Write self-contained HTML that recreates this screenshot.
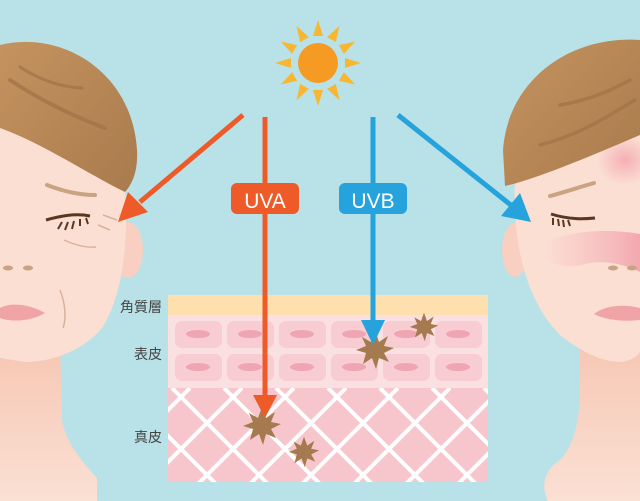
<!DOCTYPE html>
<html><head><meta charset="utf-8"><style>
html,body{margin:0;padding:0;background:#b9e1e8;}
svg{display:block}
text{font-family:"Liberation Sans","Noto Sans CJK JP",sans-serif;}
</style></head><body>
<svg width="640" height="501" viewBox="0 0 640 501" xmlns="http://www.w3.org/2000/svg">
<defs>
<linearGradient id="hair" x1="0" y1="0" x2="1" y2="1"><stop offset="0" stop-color="#c4935f"/><stop offset="1" stop-color="#a97a4c"/></linearGradient>
<linearGradient id="neck" x1="0" y1="0" x2="0" y2="1"><stop offset="0" stop-color="#f6c6b2"/><stop offset="1" stop-color="#fbe0d4"/></linearGradient>
<radialGradient id="blush" cx="0.5" cy="0.5" r="0.5"><stop offset="0" stop-color="#f29aaa" stop-opacity="0.7"/><stop offset="1" stop-color="#f29aaa" stop-opacity="0"/></radialGradient>
<linearGradient id="band" x1="0" y1="0" x2="1" y2="0"><stop offset="0" stop-color="#f3a9b3" stop-opacity="0"/><stop offset="0.5" stop-color="#f3a9b3" stop-opacity="0.45"/><stop offset="1" stop-color="#f08fa0" stop-opacity="0.7"/></linearGradient>
<clipPath id="derm"><rect x="168" y="388" width="320" height="94"/></clipPath>
<g id="star"><polygon points="0,-19 4,-8 13,-14 9,-4 19,-2 9,3 14,12 4,8 1,19 -3,8 -12,14 -9,3 -19,0 -9,-4 -13,-13 -4,-8" fill="#a57a4e"/></g>
</defs>
<rect width="640" height="501" fill="#b9e1e8"/>

<!-- Left face -->
<path d="M0,340 L60,340 L62,420 C65,440 80,460 97,478 L97,501 L0,501 Z" fill="url(#neck)"/>
<ellipse cx="128" cy="250" rx="15" ry="28" fill="#f8cfc0"/>
<path d="M0,120 L125,188 C128,230 126,290 102,328 C82,352 50,362 25,362 L0,358 Z" fill="#fbdfd3"/>
<path d="M0,45 C60,30 132,70 137,150 C138,170 133,183 125,192 C90,175 40,142 0,128 Z" fill="url(#hair)"/>
<path d="M10,80 C40,100 70,115 105,128" stroke="#9f7246" stroke-width="4" fill="none" stroke-linecap="round" opacity="0.7"/>
<path d="M20,67 C40,80 60,87 82,88" stroke="#9f7246" stroke-width="3" fill="none" stroke-linecap="round" opacity="0.7"/>
<path d="M47,185 C65,192 80,195 95,195" stroke="#c9a382" stroke-width="4" fill="none" stroke-linecap="round"/>
<path d="M46,220 C60,216 75,213 90,216" stroke="#5a3720" stroke-width="3" fill="none"/>
<path d="M62,222 l-4,7 M68,222 l-3,8 M74,221 l-2,8 M80,219 l0,7 M86,218 l2,6" stroke="#5a3720" stroke-width="2"/>
<path d="M64,240 C75,245 85,248 96,247 M98,225 l12,5 M103,215 l14,5" stroke="#d8b39a" stroke-width="1.5" fill="none"/>
<ellipse cx="8" cy="268" rx="5" ry="2.5" fill="#c9a382"/><ellipse cx="28" cy="268" rx="5" ry="2.5" fill="#c9a382"/>
<path d="M0,308 C10,302 30,304 45,313 C30,322 10,322 0,318 Z" fill="#f0a4a6"/>
<path d="M60,290 C66,305 66,320 63,328" stroke="#d8b39a" stroke-width="1.5" fill="none"/>

<!-- Right face -->
<path d="M580,335 L640,335 L640,501 L548,501 C540,485 545,470 560,460 C575,445 578,420 580,400 Z" fill="url(#neck)"/>
<ellipse cx="515" cy="250" rx="13" ry="27" fill="#f8cfc0"/>
<path d="M515,180 C512,240 525,300 560,335 C585,355 605,362 622,362 C632,360 640,355 640,350 L640,130 Z" fill="#fbdfd3"/>
<path d="M545,242 C580,228 615,230 640,234 L640,272 C620,262 600,260 585,264 C565,270 550,264 545,255 Z" fill="url(#band)"/>
<ellipse cx="625" cy="160" rx="28" ry="25" fill="url(#blush)"/>
<path d="M640,40 C570,35 508,80 503,150 L505,186 C540,178 600,152 640,135 Z" fill="url(#hair)"/>
<path d="M560,105 C590,100 612,90 630,80 M540,145 C580,135 610,115 635,100" stroke="#9f7246" stroke-width="3.5" fill="none" stroke-linecap="round" opacity="0.7"/>
<path d="M550,196 C565,192 580,187 594,183" stroke="#c9a382" stroke-width="4" fill="none" stroke-linecap="round"/>
<path d="M551,214 C570,220 585,219 595,218" stroke="#5a3720" stroke-width="3" fill="none"/>
<path d="M553,218 l0,7 M558,219 l1,7 M563,220 l1,7 M568,220 l2,6" stroke="#5a3720" stroke-width="2"/>
<ellipse cx="613" cy="268" rx="5" ry="2.5" fill="#c9a382"/><ellipse cx="632" cy="268" rx="5" ry="2.5" fill="#c9a382"/>
<path d="M594,314 C605,305 625,304 640,308 L640,320 C625,322 605,320 594,314 Z" fill="#f0a4a6"/>

<!-- Sun -->
<g transform="translate(318,63)" fill="#f7b733">
<g id="ray"><polygon points="-5,-27 5,-27 0,-43"/></g>
<use href="#ray" transform="rotate(30)"/><use href="#ray" transform="rotate(60)"/><use href="#ray" transform="rotate(90)"/>
<use href="#ray" transform="rotate(120)"/><use href="#ray" transform="rotate(150)"/><use href="#ray" transform="rotate(180)"/>
<use href="#ray" transform="rotate(210)"/><use href="#ray" transform="rotate(240)"/><use href="#ray" transform="rotate(270)"/>
<use href="#ray" transform="rotate(300)"/><use href="#ray" transform="rotate(330)"/>
<circle r="20" fill="#f59a22"/>
</g>

<!-- Skin diagram -->
<rect x="168" y="295" width="320" height="20" fill="#fde0ad"/>
<rect x="168" y="315" width="320" height="73" fill="#fbe0e2"/>
<rect x="168" y="388" width="320" height="94" fill="#f7c6cc"/>
<g clip-path="url(#derm)" stroke="#fff" stroke-width="4">
<path d="M120,388 L220,488 M172,388 L272,488 M224,388 L324,488 M276,388 L376,488 M328,388 L428,488 M380,388 L480,488 M432,388 L532,488 M484,388 L584,488 M68,388 L168,488"/>
<path d="M190,388 L90,488 M242,388 L142,488 M294,388 L194,488 M346,388 L246,488 M398,388 L298,488 M450,388 L350,488 M502,388 L402,488 M554,388 L454,488 M606,388 L506,488"/>
</g>
<g fill="#f7ccd2">
<rect x="175" y="321" width="47" height="27" rx="7"/><rect x="227" y="321" width="47" height="27" rx="7"/><rect x="279" y="321" width="47" height="27" rx="7"/><rect x="331" y="321" width="47" height="27" rx="7"/><rect x="383" y="321" width="47" height="27" rx="7"/><rect x="435" y="321" width="47" height="27" rx="7"/>
<rect x="175" y="354" width="47" height="27" rx="7"/><rect x="227" y="354" width="47" height="27" rx="7"/><rect x="279" y="354" width="47" height="27" rx="7"/><rect x="331" y="354" width="47" height="27" rx="7"/><rect x="383" y="354" width="47" height="27" rx="7"/><rect x="435" y="354" width="47" height="27" rx="7"/>
</g>
<g fill="#f0a5b2">
<ellipse cx="198" cy="334" rx="12" ry="4"/><ellipse cx="250" cy="334" rx="12" ry="4"/><ellipse cx="302" cy="334" rx="12" ry="4"/><ellipse cx="354" cy="334" rx="12" ry="4"/><ellipse cx="406" cy="334" rx="12" ry="4"/><ellipse cx="458" cy="334" rx="12" ry="4"/>
<ellipse cx="198" cy="367" rx="12" ry="4"/><ellipse cx="250" cy="367" rx="12" ry="4"/><ellipse cx="302" cy="367" rx="12" ry="4"/><ellipse cx="354" cy="367" rx="12" ry="4"/><ellipse cx="406" cy="367" rx="12" ry="4"/><ellipse cx="458" cy="367" rx="12" ry="4"/>
</g>
<text x="162" y="312" font-size="14" fill="#444" text-anchor="end">角質層</text>
<text x="162" y="359" font-size="14" fill="#444" text-anchor="end">表皮</text>
<text x="162" y="442" font-size="14" fill="#444" text-anchor="end">真皮</text>

<use href="#star" transform="translate(262,426)"/>
<use href="#star" transform="translate(304,452) scale(0.8)"/>
<use href="#star" transform="translate(375,350)"/>
<use href="#star" transform="translate(424,327) scale(0.75)"/>

<!-- Arrows -->
<g stroke="#ee5a28" stroke-width="5" fill="#ee5a28">
<line x1="243" y1="115" x2="140" y2="202"/>
<polygon points="118,222 128,192 148,212" stroke="none"/>
<line x1="265" y1="117" x2="265" y2="398"/>
<polygon points="253,395 277,395 265,418" stroke="none"/>
</g>
<g stroke="#26a3dc" stroke-width="5" fill="#26a3dc">
<line x1="373" y1="117" x2="373" y2="322"/>
<polygon points="361,320 385,320 373,345" stroke="none"/>
<line x1="398" y1="115" x2="512" y2="206"/>
<polygon points="531,222 501,216 520,193" stroke="none"/>
</g>
<rect x="231" y="183" width="68" height="31" rx="6" fill="#ee5a28"/>
<text x="265" y="208" font-size="21" fill="#fff" text-anchor="middle">UVA</text>
<rect x="339" y="183" width="68" height="31" rx="6" fill="#26a3dc"/>
<text x="373" y="208" font-size="21" fill="#fff" text-anchor="middle">UVB</text>
</svg>
</body></html>
